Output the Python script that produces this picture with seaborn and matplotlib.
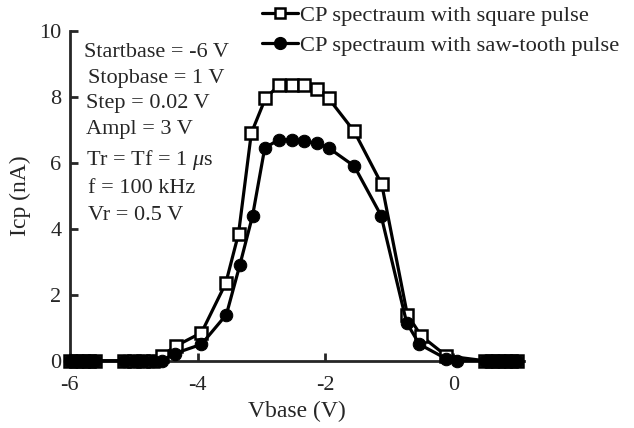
import matplotlib
matplotlib.use("Agg")
import matplotlib.pyplot as plt
import seaborn as sns
import pandas as pd
from matplotlib.lines import Line2D

sq_x = [-6.0, -5.9, -5.8, -5.7, -5.6, -5.15, -5.0, -4.85, -4.7, -4.56, -4.34, -3.94,
        -3.56, -3.36, -3.16, -2.94, -2.73, -2.53, -2.34, -2.14, -1.95, -1.55, -1.12,
        -0.72, -0.5, -0.11, 0.5, 0.6, 0.7, 0.8, 0.9, 1.0]
sq_y = [0, 0, 0, 0, 0, 0, 0, 0, 0, 0.15, 0.45, 0.85,
        2.35, 3.85, 6.9, 7.95, 8.35, 8.35, 8.35, 8.25, 7.95, 6.95, 5.35,
        1.4, 0.75, 0.15, 0, 0, 0, 0, 0, 0]

ci_x = [-6.0, -5.9, -5.8, -5.7, -5.6, -5.15, -5.0, -4.85, -4.7, -4.56, -4.36, -3.94,
        -3.55, -3.34, -3.14, -2.95, -2.73, -2.53, -2.34, -2.14, -1.95, -1.55, -1.13,
        -0.73, -0.53, -0.11, 0.06, 0.5, 0.6, 0.7, 0.8, 0.9, 1.0]
ci_y = [0, 0, 0, 0, 0, 0, 0, 0, 0, 0, 0.22, 0.5,
        1.4, 2.9, 4.4, 6.45, 6.7, 6.7, 6.65, 6.6, 6.45, 5.9, 4.4,
        1.15, 0.5, 0.06, 0, 0, 0, 0, 0, 0, 0]

labels = ["CP spectraum with square pulse", "CP spectraum with saw-tooth pulse"]
notes = ["Startbase = -6 V", "Stopbase = 1 V", "Step = 0.02 V", "Ampl = 3 V",
         "Tr = Tf = 1 $\\mu$s", "f = 100 kHz", "Vr = 0.5 V"]
x_ticks = [-6, -4, -2, 0]
y_ticks = [0, 2, 4, 6, 8, 10]

sns.set_style("ticks")
plt.rcParams['font.family'] = ['Liberation Serif', 'DejaVu Serif']
plt.rcParams['mathtext.fontset'] = 'custom'
plt.rcParams['mathtext.it'] = 'Liberation Serif:italic'
plt.rcParams['mathtext.rm'] = 'Liberation Serif'

fig = plt.figure(figsize=(6.34, 4.28), dpi=100)
ax = fig.add_axes([0.110, 0.157, 0.716, 0.771])

df_sq = pd.DataFrame({"x": sq_x, "y": sq_y})
df_ci = pd.DataFrame({"x": ci_x, "y": ci_y})

sns.lineplot(data=df_sq, x="x", y="y", ax=ax, color="black", lw=2.3, marker="s",
             markersize=8.5, markerfacecolor="white", markeredgecolor="black",
             markeredgewidth=1.8, clip_on=False, zorder=3)
sns.lineplot(data=df_ci, x="x", y="y", ax=ax, color="black", lw=2.3, marker="o",
             markersize=9, markerfacecolor="black", markeredgecolor="black",
             clip_on=False, zorder=3)

ax.set_xlim(-6, 1.1)
ax.set_ylim(0, 10)
ax.set_xticks(x_ticks)
ax.set_yticks(y_ticks)
ax.set_xticklabels([str(t) for t in x_ticks])
ax.set_yticklabels([str(t) for t in y_ticks])
ax.tick_params(direction="in", length=6, width=2, labelsize=16)
ax.tick_params(axis="x", pad=11)
ax.tick_params(axis="y", pad=6)
for s in ["top", "right"]:
    ax.spines[s].set_visible(False)
for s in ["left", "bottom"]:
    ax.spines[s].set_linewidth(2)
ax.set_xlabel("Vbase (V)", fontsize=17, labelpad=4)
ax.set_ylabel("Icp (nA)", fontsize=17, labelpad=6)

ypos = [9.33, 8.55, 7.8, 7.0, 6.1, 5.22, 4.4]
xoff = [-5.78, -5.72, -5.75, -5.75, -5.75, -5.72, -5.72]
for t, yy, xx in zip(notes, ypos, xoff):
    ax.text(xx, yy, t, fontsize=16, va="center", ha="left")

handles = [
    Line2D([], [], color="black", lw=2.3, marker="s", markersize=7,
           markerfacecolor="white", markeredgecolor="black", markeredgewidth=1.8),
    Line2D([], [], color="black", lw=2.3, marker="o", markersize=8.5,
           markerfacecolor="black"),
]
fig.legend(handles, labels, loc="upper left", bbox_to_anchor=(0.414, 0.988),
           frameon=False, fontsize=16.2, handlelength=1.6, handletextpad=0.05,
           labelspacing=0.42, borderaxespad=0.0, borderpad=0.0)

fig.savefig("out.png", dpi=100)
